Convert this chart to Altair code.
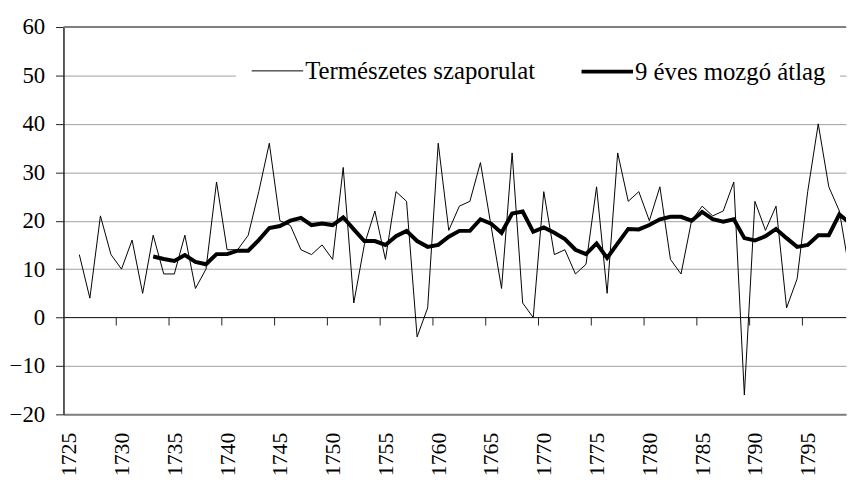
import altair as alt
import pandas as pd

# ---- data ----
years_raw = list(range(1726, 1800))
natural_increase = [13, 4, 21, 13, 10, 16, 5, 17, 9, 9,
                    17, 6, 10, 28, 14, 14, 17, 26, 36, 20,
                    19, 14, 13, 15, 12, 31, 3, 15, 22, 12,
                    26, 24, -4, 2, 36, 18, 23, 24, 32, 19,
                    6, 34, 3, 0, 26, 13, 14, 9, 11, 27,
                    5, 34, 24, 26, 20, 27, 12, 9, 20, 23,
                    21, 22, 28, -16, 24, 18, 23, 2, 8, 26,
                    40, 27, 22, 9]

years_ma = list(range(1733, 1800))
moving_avg = [12.6, 12.1, 11.7, 12.9, 11.5, 11.0, 13.1, 13.1, 13.8, 13.8,
              16.0, 18.5, 18.9, 20.0, 20.6, 19.1, 19.4, 19.1, 20.7, 18.2,
              15.8, 15.8, 15.0, 16.8, 17.9, 15.8, 14.6, 15.0, 16.7, 17.9,
              17.9, 20.3, 19.4, 17.5, 21.5, 21.9, 17.7, 18.6, 17.5, 16.2,
              14.0, 13.1, 15.3, 12.3, 15.3, 18.3, 18.2, 19.1, 20.3, 20.8,
              20.8, 20.0, 21.8, 20.3, 19.8, 20.3, 16.4, 15.9, 16.8, 18.3,
              16.4, 14.6, 15.0, 17.0, 17.0, 21.3, 19.5]

series_names = ["Természetes szaporulat", "9 éves mozgó átlag"]
x_label_years = list(range(1725, 1800, 5))
x_tick_years = list(range(1730, 1800, 5))
y_ticks = list(range(-20, 61, 10))

rows = []
for yr, v in zip(years_raw, natural_increase):
    rows.append({"year": yr, "value": v, "series": series_names[0]})
for yr, v in zip(years_ma, moving_avg):
    rows.append({"year": yr, "value": v, "series": series_names[1]})
df = pd.DataFrame(rows)

ticks_df = pd.DataFrame({"year": [y - 0.5 for y in x_tick_years]})
zero_df = pd.DataFrame({"v": [0]})
top_df = pd.DataFrame({"v": [60]})

W, H = 790, 391
px_per_year = 10.657
FONT = "Liberation Serif"
FS = 23

x_scale = alt.Scale(domain=[1724.5, 1724.5 + W / px_per_year], nice=False, zero=False)
y_scale = alt.Scale(domain=[-20, 60], nice=False, zero=False)

x_axis = alt.Axis(values=x_label_years, format="d", labelAngle=270, ticks=False,
                  grid=False, domain=True, domainColor="#808080", domainWidth=2,
                  labelPadding=18, labelFont=FONT, labelFontSize=22,
                  labelColor="black", title=None, labelOverlap=False)
y_axis = alt.Axis(values=y_ticks, grid=True, gridColor="#a0a0a0", gridWidth=1,
                  tickSize=8, tickColor="#222", domainColor="#222", domainWidth=1.5,
                  labelPadding=11, labelFont=FONT, labelFontSize=FS,
                  labelColor="black", title=None)

lines = alt.Chart(df).mark_line(clip=True, color="black").encode(
    x=alt.X("year:Q", scale=x_scale, axis=x_axis),
    y=alt.Y("value:Q", scale=y_scale, axis=y_axis),
    strokeWidth=alt.StrokeWidth(
        "series:N",
        scale=alt.Scale(domain=series_names, range=[1, 4]),
        legend=alt.Legend(
            title=None, orient="none", legendX=174, legendY=3,
            direction="horizontal", columns=2, symbolType="stroke",
            symbolSize=2704, symbolStrokeColor="black",
            labelFont=FONT, labelFontSize=25, labelColor="black",
            labelFontWeight="normal",
            labelOffset=0, columnPadding=38, fillColor="white", padding=14,
            labelLimit=400,
        ),
    ),
)

zero_line = alt.Chart(zero_df).mark_rule(color="#222", strokeWidth=1).encode(
    y=alt.Y("v:Q", scale=y_scale)
)
top_line = alt.Chart(top_df).mark_rule(color="#808080", strokeWidth=2).encode(
    y=alt.Y("v:Q", scale=y_scale)
)
x_ticks = alt.Chart(ticks_df).mark_rule(color="#222", strokeWidth=1).encode(
    x=alt.X("year:Q", scale=x_scale),
    y=alt.datum(0),
    y2=alt.datum(-1.65),
)

chart = alt.layer(top_line, zero_line, x_ticks, lines).properties(
    width=W, height=H,
    autosize=alt.AutoSizeParams(type="none"),
    padding={"left": 56, "top": 17, "right": 1, "bottom": 60},
    background="white",
).configure_view(stroke=None)

chart.save("out.html", embed_options={"renderer": "svg", "actions": False})
